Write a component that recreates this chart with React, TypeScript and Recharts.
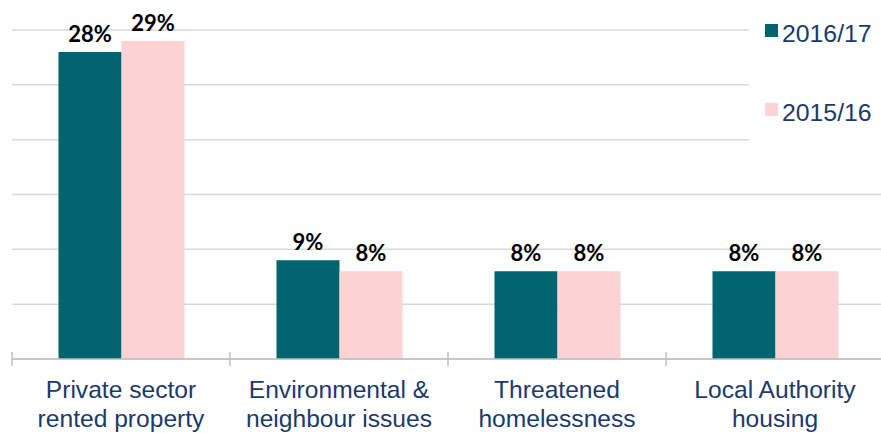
import React from "react";
import {
  BarChart,
  Bar,
  XAxis,
  YAxis,
  CartesianGrid,
  LabelList,
} from "recharts";

// Reasons for loss of last settled home, share of cases
const categories = [
  "Private sector\nrented property",
  "Environmental &\nneighbour issues",
  "Threatened\nhomelessness",
  "Local Authority\nhousing",
];
const share1617 = [28, 9, 8, 8];
const share1516 = [29, 8, 8, 8];
const yTicks = [0, 5, 10, 15, 20, 25, 30];

const series = [
  { key: "y1617", name: "2016/17", color: "#00646e" },
  { key: "y1516", name: "2015/16", color: "#fcd2d3" },
];

const data = categories.map((label, i) => ({
  label,
  y1617: share1617[i],
  y1516: share1516[i],
}));

const CHART_W = 890;
const CHART_H = 433;
const MARGIN = { top: 30, right: 6, bottom: 0, left: 12 };
const BAND = (CHART_W - MARGIN.left - MARGIN.right) / categories.length;

const NAVY = "#1a3a6b";
const SANS = "'Liberation Sans', Arial, sans-serif";

const CategoryTick = (props: any) => {
  const { x, y, payload, index } = props;
  const lines: string[] = String(payload.value).split("\n");
  const isLast = index === categories.length - 1;
  return (
    <g>
      <line x1={x - BAND / 2} x2={x - BAND / 2} y1={y - 7} y2={y + 7} stroke="#bfbfbf" strokeWidth={1.5} />
      {isLast && (
        <line x1={x + BAND / 2} x2={x + BAND / 2} y1={y - 7} y2={y + 7} stroke="#bfbfbf" strokeWidth={1.5} />
      )}
      <text x={x} y={y} textAnchor="middle" fill={NAVY} fontFamily={SANS} fontSize={24.6}>
        {lines.map((line, i) => (
          <tspan key={i} x={x} y={y + 39 + i * 28.5}>
            {line}
          </tspan>
        ))}
      </text>
    </g>
  );
};

// legend box sits over the top-right corner of the plot and hides the grid there
const LegendBox = () => (
  <div
    style={{
      position: "absolute",
      left: 749,
      top: 0,
      width: 132,
      height: 168,
      background: "#fff",
    }}
  >
    {series.map((s, i) => (
      <div key={s.key}>
        <div
          style={{
            position: "absolute",
            left: 16,
            top: 24 + i * 79,
            width: 13,
            height: 13,
            background: s.color,
          }}
        />
        <div
          style={{
            position: "absolute",
            left: 33,
            top: 22 + i * 79,
            fontFamily: SANS,
            fontSize: 24.8,
            lineHeight: "24px",
            color: NAVY,
            whiteSpace: "nowrap",
          }}
        >
          {s.name}
        </div>
      </div>
    ))}
  </div>
);

export default function App() {
  return (
    <div
      style={{
        position: "fixed",
        left: 0,
        top: 0,
        width: 881,
        height: 433,
        overflow: "hidden",
        background: "#fff",
      }}
    >
      <BarChart
        width={CHART_W}
        height={CHART_H}
        data={data}
        margin={MARGIN}
        barCategoryGap={46.5}
        barGap={0}
      >
        <CartesianGrid vertical={false} stroke="#d9d9d9" strokeWidth={1.5} />
        <YAxis hide domain={[0, 30]} ticks={yTicks} width={0} />
        <XAxis
          dataKey="label"
          height={CHART_H - 359}
          axisLine={{ stroke: "#bfbfbf", strokeWidth: 1.5 }}
          tickLine={false}
          tickSize={0}
          tickMargin={0}
          interval={0}
          tick={<CategoryTick />}
        />
        {series.map((s) => (
          <Bar key={s.key} dataKey={s.key} name={s.name} fill={s.color} isAnimationActive={false}>
            <LabelList
              dataKey={s.key}
              position="top"
              offset={10}
              formatter={(v: any) => `${v}%`}
              fill="#000"
              fontFamily="Lato, 'Open Sans', sans-serif"
              fontWeight={700}
              fontSize={22}
            />
          </Bar>
        ))}
      </BarChart>
      <LegendBox />
    </div>
  );
}
